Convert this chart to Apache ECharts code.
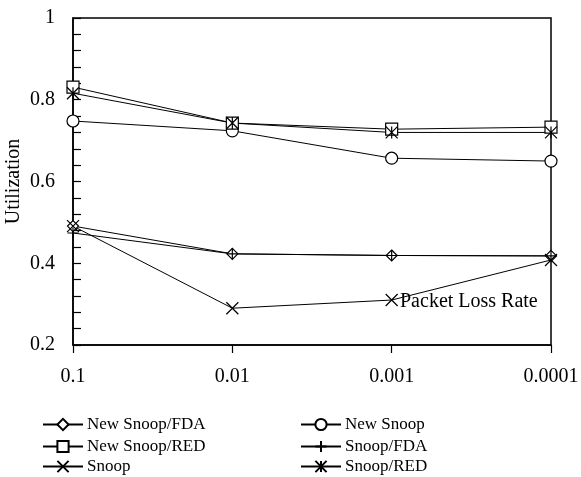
<!DOCTYPE html>
<html>
<head>
<meta charset="utf-8">
<script src="https://cdn.jsdelivr.net/npm/echarts@6/dist/echarts.min.js"></script>
<style>html,body{margin:0;padding:0;background:#fff}#c{width:581px;height:477px}</style>
</head>
<body>
<div id="c"></div>
<script>
var categories = ['0.1', '0.01', '0.001', '0.0001'];
var newSnoopFDA = [0.491, 0.423, 0.419, 0.418];
var newSnoop = [0.748, 0.724, 0.657, 0.650];
var newSnoopRED = [0.831, 0.743, 0.728, 0.733];
var snoopFDA = [0.474, 0.423, 0.419, 0.418];
var snoop = [0.491, 0.290, 0.310, 0.408];
var snoopRED = [0.816, 0.743, 0.720, 0.720];
var yTicks = [0.2, 0.4, 0.6, 0.8, 1];
var legendLeftColumn = ['New Snoop/FDA', 'New Snoop/RED', 'Snoop'];
var legendRightColumn = ['New Snoop', 'Snoop/FDA', 'Snoop/RED'];

var FONT = '"Liberation Serif", "Times New Roman", serif';
var plusPath = 'path://M5,0 L5,10 M0,5 L10,5';
var crossPath = 'path://M0,0 L10,10 M10,0 L0,10';
var starPath = 'path://M0,0 L10,10 M10,0 L0,10 M5,0 L5,10';

function mk(name, data, symbol, size) {
  return {
    name: name, type: 'line', data: data,
    symbol: symbol, symbolSize: size,
    color: '#000',
    lineStyle: { color: '#000', width: 1 },
    itemStyle: { color: '#fff', borderColor: '#000', borderWidth: 1.2 },
    emphasis: { disabled: true },
    animation: false
  };
}

var legendText = { color: '#000', fontFamily: FONT, fontSize: 17, padding: [0, 0, 0, -1] };
var rowTops = [416, 438, 458];
var legends = [];
legendLeftColumn.forEach(function (n, i) {
  legends.push({ left: 42, top: rowTops[i], padding: 0, itemWidth: 40, itemHeight: 14, data: [n], textStyle: legendText });
});
legendRightColumn.forEach(function (n, i) {
  legends.push({ left: 300, top: rowTops[i], padding: 0, itemWidth: 40, itemHeight: 14, data: [n], textStyle: legendText });
});

var chart = echarts.init(document.getElementById('c'));
chart.setOption({
  animation: false,
  backgroundColor: '#fff',
  grid: { left: 73, top: 18, width: 478, height: 327, containLabel: false, outerBoundsMode: 'none',
    show: true, borderColor: '#000', borderWidth: 1.5, backgroundColor: 'transparent' },
  xAxis: {
    type: 'category', data: categories, boundaryGap: false,
    axisLine: { lineStyle: { color: '#000', width: 1.5 } },
    axisTick: { inside: false, length: 8, lineStyle: { color: '#000', width: 1.2 } },
    axisLabel: { color: '#000', fontFamily: FONT, fontSize: 20, margin: 22 },
    splitLine: { show: false }
  },
  yAxis: {
    type: 'value', min: yTicks[0], max: yTicks[yTicks.length - 1], interval: 0.2,
    name: 'Utilization', nameLocation: 'middle', nameGap: 49, nameMoveOverlap: false,
    nameTextStyle: { color: '#000', fontFamily: FONT, fontSize: 20 },
    axisLine: { show: true, lineStyle: { color: '#000', width: 1.5 } },
    axisTick: { show: true, inside: true, length: 8, lineStyle: { color: '#000', width: 1.2 } },
    minorTick: { show: true, splitNumber: 5, length: 8, lineStyle: { color: '#000', width: 1.2 } },
    axisLabel: { color: '#000', fontFamily: FONT, fontSize: 20, margin: 18,
      formatter: function (v) { return String(Math.round(v * 10) / 10); } },
    splitLine: { show: false }
  },
  legend: legends,
  graphic: [
    { type: 'text', left: 400, top: 292, style: { text: 'Packet Loss Rate', font: '20px ' + FONT, fill: '#000' } }
  ],
  series: [
    mk('New Snoop/FDA', newSnoopFDA, 'diamond', 11),
    mk('New Snoop', newSnoop, 'circle', 12),
    mk('New Snoop/RED', newSnoopRED, 'rect', 12),
    mk('Snoop/FDA', snoopFDA, plusPath, 11),
    mk('Snoop', snoop, crossPath, 12),
    mk('Snoop/RED', snoopRED, starPath, 12)
  ]
});
</script>
</body>
</html>
